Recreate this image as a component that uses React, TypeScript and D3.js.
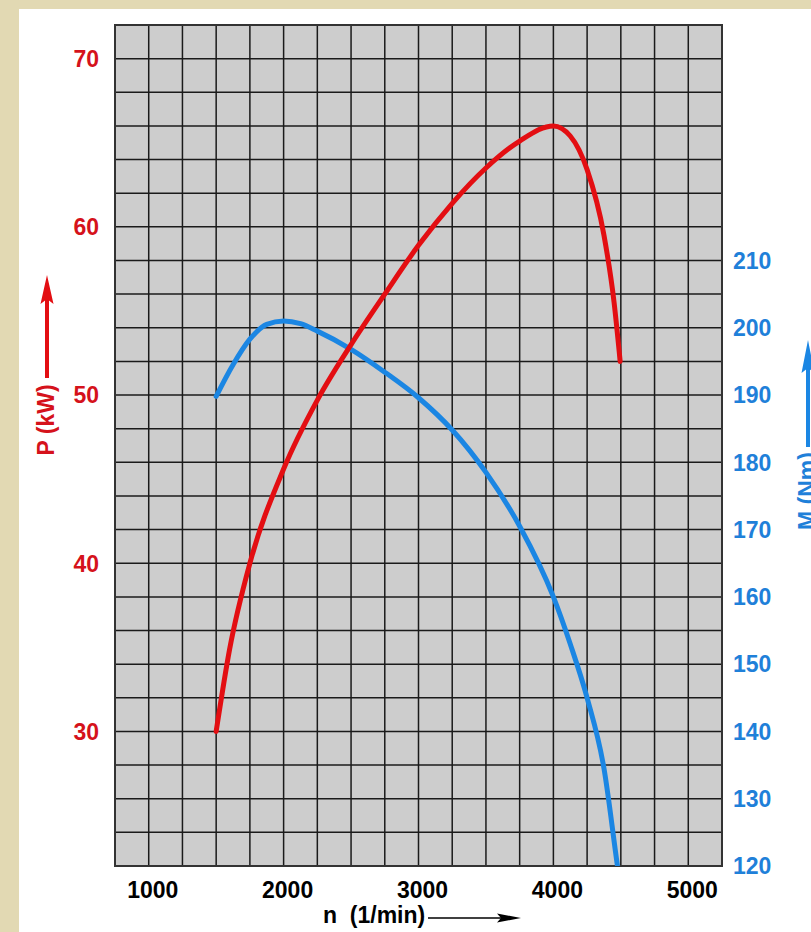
import React from "react";
import * as d3 from "d3";

const rpmTicks = [1000, 2000, 3000, 4000, 5000];
const powerTicks = [30, 40, 50, 60, 70];
const torqueTicks = [120, 130, 140, 150, 160, 170, 180, 190, 200, 210];

const powerRpm = [1500, 1600, 1750, 2000, 2250, 2500, 2750, 3000, 3250, 3500, 3750, 4000, 4125, 4250, 4375, 4450, 4495];
const powerKw = [30, 34.9, 40.0, 45.6, 49.7, 53.0, 56.0, 58.9, 61.4, 63.5, 65.1, 66.0, 65.4, 63.4, 59.5, 55.5, 52.0];

const torqueRpm = [1500, 1625, 1750, 1875, 2000, 2125, 2250, 2500, 2750, 3000, 3250, 3500, 3750, 4000, 4125, 4250, 4375, 4475, 4500];
const torqueNm = [189.8, 194.5, 198.3, 200.5, 201.0, 200.6, 199.5, 196.8, 193.4, 189.6, 184.8, 178.5, 170.5, 160.0, 153.0, 145.0, 134.5, 120.0, 116.5];

const W = 811, H = 932;
const L = 115, R = 722, T = 25, B = 866;
const RED = "#e30e12";
const RED_TXT = "#d5121b";
const BLUE = "#1b86e3";
const BLUE_TXT = "#1f80d9";
const FONT = "'Liberation Sans', Arial, Helvetica, sans-serif";

export default function App() {
  const x = d3.scaleLinear().domain([750, 5250]).range([L, R]);
  const yP = d3.scaleLinear().domain([22, 72]).range([B, T]);
  const yM = d3.scaleLinear().domain([120, 245]).range([B, T]);

  const xGrid = d3.range(750, 5251, 250);
  const yGrid = d3.range(22, 72.01, 2);

  const powerPts: [number, number][] = powerRpm.map((r, i) => [r, powerKw[i]]);
  const torquePts: [number, number][] = torqueRpm.map((r, i) => [r, torqueNm[i]]);

  const lineP = d3.line<[number, number]>().x(d => x(d[0])).y(d => yP(d[1])).curve(d3.curveMonotoneX);
  const lineM = d3.line<[number, number]>().x(d => x(d[0])).y(d => yM(d[1])).curve(d3.curveMonotoneX);

  return (
    <svg width={W} height={H} style={{ position: "absolute", left: 0, top: 0 }} fontFamily={FONT}>
      <rect x={0} y={0} width={W} height={H} fill="#e2d9b3" />
      <rect x={19} y={9} width={W - 19} height={H - 9} fill="#ffffff" />
      <defs>
        <clipPath id="plot">
          <rect x={L} y={T} width={R - L} height={B - T} />
        </clipPath>
      </defs>
      <rect x={L} y={T} width={R - L} height={B - T} fill="#cdcdcd" />
      {xGrid.map(v => (
        <line key={"gx" + v} x1={x(v)} x2={x(v)} y1={T} y2={B} stroke="#1a1a1a" strokeWidth={1.5} />
      ))}
      {yGrid.map(v => (
        <line key={"gy" + v} x1={L} x2={R} y1={yP(v)} y2={yP(v)} stroke="#1a1a1a" strokeWidth={1.5} />
      ))}
      <rect x={L} y={T} width={R - L} height={B - T} fill="none" stroke="#333" strokeWidth={2} />

      <g clipPath="url(#plot)">
        <path d={lineM(torquePts) || ""} fill="none" stroke={BLUE} strokeWidth={5} strokeLinecap="round" strokeLinejoin="round" />
        <path d={lineP(powerPts) || ""} fill="none" stroke={RED} strokeWidth={5} strokeLinecap="round" strokeLinejoin="round" />
      </g>

      {rpmTicks.map(v => (
        <text key={"xt" + v} x={x(v) + 4} y={898} textAnchor="middle" fontSize={23} fontWeight="bold" fill="#000">{v}</text>
      ))}
      {powerTicks.map(v => (
        <text key={"pt" + v} x={99} y={yP(v)} dy="0.36em" textAnchor="end" fontSize={23} fontWeight="bold" fill={RED_TXT}>{v}</text>
      ))}
      {torqueTicks.map(v => (
        <text key={"mt" + v} x={733} y={yM(v)} dy="0.36em" textAnchor="start" fontSize={23} fontWeight="bold" fill={BLUE_TXT}>{v}</text>
      ))}

      {/* x axis title */}
      <text x={323} y={923} fontSize={23} fontWeight="bold" fill="#000" style={{ whiteSpace: "pre" }}>{"n  (1/min)"}</text>
      <line x1={428} x2={503} y1={918} y2={918} stroke="#000" strokeWidth={1.5} />
      <path d="M521,918 L497,913.5 L501,918 L497,922.5 Z" fill="#000" />

      {/* P axis title */}
      <text transform="translate(54,420) rotate(-90)" textAnchor="middle" fontSize={23} fontWeight="bold" fill={RED_TXT}>P (kW)</text>
      <line x1={47} x2={47} y1={378} y2={298} stroke={RED} strokeWidth={4} />
      <path d="M47,275 L40.5,304 L47,299 L53.5,304 Z" fill={RED} />

      {/* M axis title (cut off by the right edge, as in the reference) */}
      <text transform="translate(815,491) rotate(-90)" textAnchor="middle" fontSize={23} fontWeight="bold" fill={BLUE_TXT}>M (Nm)</text>
      <line x1={808} x2={808} y1={447} y2={368} stroke={BLUE} strokeWidth={4} />
      <path d="M808,340 L801.5,373 L808,368 L814.5,373 Z" fill={BLUE} />
    </svg>
  );
}
